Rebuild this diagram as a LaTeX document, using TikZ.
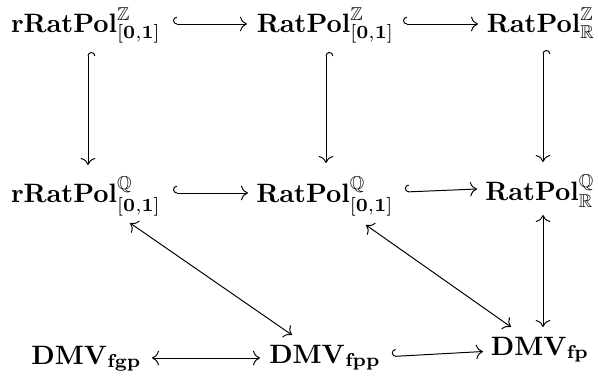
\RequirePackage{fix-cm}
\documentclass[tikz,border=0pt]{standalone}
\usepackage{amsmath,amssymb}
\usetikzlibrary{calc,arrows.meta}
\newcommand{\zint}{{[\mathbf{0},\mathbf{1}]}}
\begin{document}
\begin{tikzpicture}[x=0.41pt,y=-0.41pt,
  obj/.style={anchor=base,inner sep=0pt,font=\fontsize{10.9}{13}\selectfont},
  inc/.style={line width=0.4pt,{Hooks[right,scale=1.3]}-{Computer Modern Rightarrow[scale=1.15]}},
  bij/.style={line width=0.4pt,{Computer Modern Rightarrow[scale=1.15]}-{Computer Modern Rightarrow[scale=1.15]}}]
\useasboundingbox (0,0) rectangle (598,375);
\node[obj] (a11) at (86,32) {$\mathbf{rRatPol}^{\mathbb{Z}}_{\zint}$};
\node[obj] (a12) at (325.5,32) {$\mathbf{RatPol}^{\mathbb{Z}}_{\zint}$};
\node[obj] (a13) at (541,32) {$\mathbf{RatPol}^{\mathbb{Z}}_{\mathbb{R}}$};
\node[obj] (a21) at (86,202) {$\mathbf{rRatPol}^{\mathbb{Q}}_{\zint}$};
\node[obj] (a22) at (325,202) {$\mathbf{RatPol}^{\mathbb{Q}}_{\zint}$};
\node[obj] (a23) at (540,200) {$\mathbf{RatPol}^{\mathbb{Q}}_{\mathbb{R}}$};
\node[obj] (a31) at (86.5,364) {$\mathbf{DMV}_{\mathbf{fgp}}$};
\node[obj] (a32) at (325,363) {$\mathbf{DMV}_{\mathbf{fpp}}$};
\node[obj] (a33) at (540,355) {$\mathbf{DMV}_{\mathbf{fp}}$};
% horizontal
\draw[inc] ($(a11.base)+(87,-8)$) -- ($(a12.base)+(-78.5,-8)$);
\draw[inc] ($(a12.base)+(77.5,-8)$) -- ($(a13.base)+(-63,-8)$);
\draw[inc] ($(a21.base)+(87,-9)$) -- ($(a22.base)+(-77,-9)$);
\draw[inc] ($(a22.base)+(80,-10)$) -- ($(a23.base)+(-63,-11)$);
\draw[bij] ($(a31.base)+(65.5,-6)$) -- ($(a32.base)+(-65,-5)$);
\draw[inc] ($(a32.base)+(67,-6.5)$) -- ($(a33.base)+(-57,-3.5)$);
% vertical
\draw[inc] ($(a11.base)+(2,20)$) -- ($(a21.base)+(2,-37)$);
\draw[inc] ($(a12.base)+(0.5,20)$) -- ($(a22.base)+(1,-39)$);
\draw[inc] ($(a13.base)+(2,18)$) -- ($(a23.base)+(3,-38)$);
\draw[bij] ($(a23.base)+(3,15)$) -- ($(a33.base)+(3,-28)$);
% diagonal
\draw[bij] ($(a21.base)+(44,21)$) -- ($(a32.base)+(-33,-28)$);
\draw[bij] ($(a22.base)+(41,23)$) -- ($(a33.base)+(-29,-28)$);
\end{tikzpicture}
\end{document}
